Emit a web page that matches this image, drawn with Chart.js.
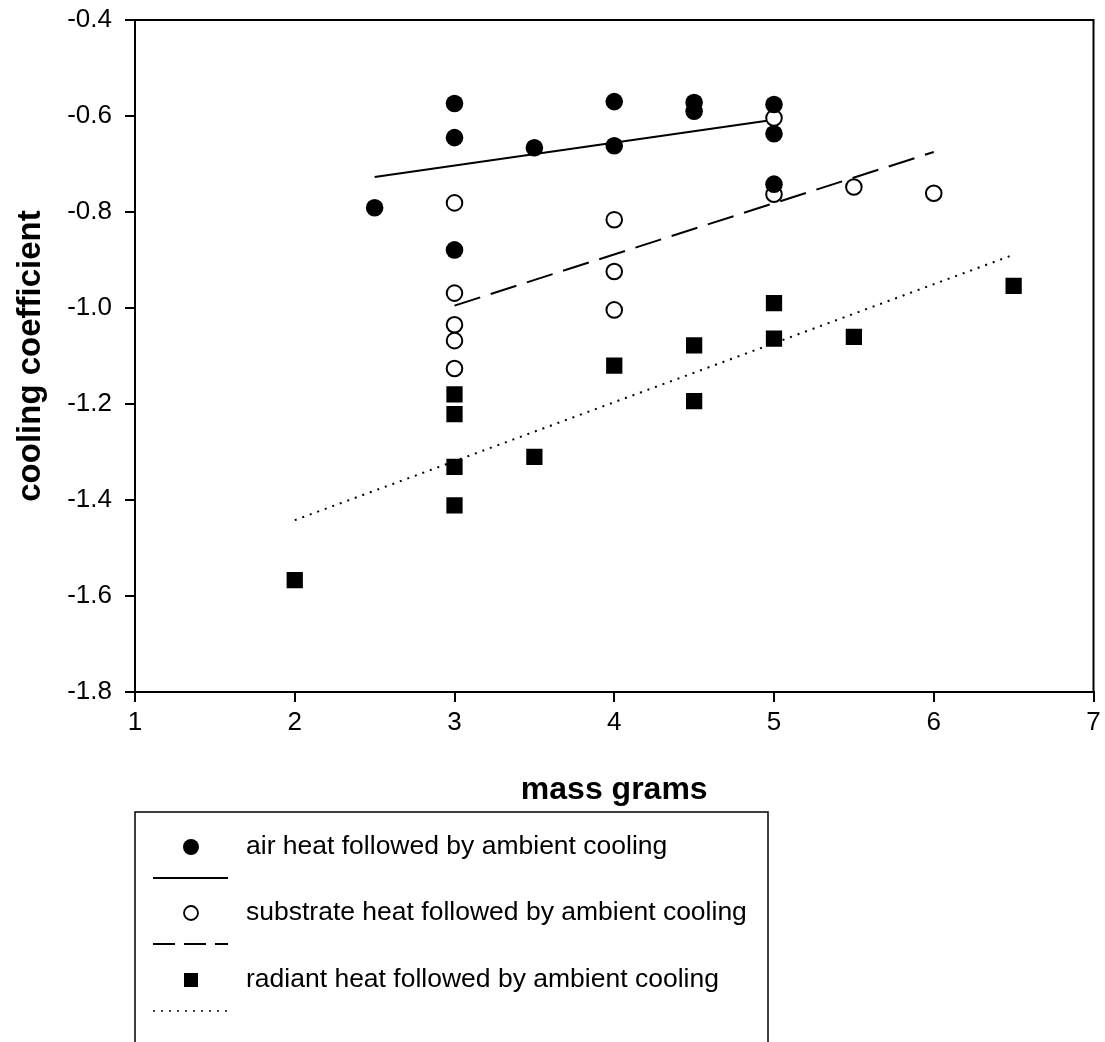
<!DOCTYPE html>
<html>
<head>
<meta charset="utf-8">
<script src="https://cdn.jsdelivr.net/npm/chart.js@4/dist/chart.umd.min.js"></script>
<style>
  html, body { margin: 0; padding: 0; background: #fff; }
  #wrap { width: 1105px; height: 1042px; }
</style>
</head>
<body>
<div id="wrap"><canvas id="c" width="1105" height="1042"></canvas></div>
<script>
// ---- data ----
const seriesLabels = [
  "air heat followed by ambient cooling",
  "substrate heat followed by ambient cooling",
  "radiant heat followed by ambient cooling"
];
const airX = [2.5, 3, 3, 3, 3.5, 4, 4, 4.5, 4.5, 5, 5, 5];
const airY = [-0.791, -0.574, -0.645, -0.879, -0.666, -0.570, -0.662, -0.572, -0.590, -0.576, -0.637, -0.742];
const subX = [3, 3, 3, 3, 3, 4, 4, 4, 5, 5, 5.5, 6];
const subY = [-0.781, -0.969, -1.035, -1.068, -1.126, -0.816, -0.924, -1.004, -0.604, -0.763, -0.748, -0.761];
const radX = [2, 3, 3, 3, 3, 3.5, 4, 4.5, 4.5, 5, 5, 5.5, 6.5];
const radY = [-1.567, -1.180, -1.221, -1.331, -1.411, -1.310, -1.120, -1.078, -1.194, -0.990, -1.064, -1.060, -0.954];
const airFitX = [2.5, 5];
const airFitY = [-0.727, -0.608];
const subFitX = [3, 6];
const subFitY = [-0.995, -0.675];
const radFitX = [2, 6.5];
const radFitY = [-1.442, -0.889];
const xTitle = "mass grams";
const yTitle = "cooling coefficient";

const pts = (xs, ys) => xs.map((x, i) => ({ x: x, y: ys[i] }));
const FONT = "'Liberation Sans', Arial, Helvetica, sans-serif";

const datasets = [
  { label: seriesLabels[0], type: 'scatter', data: pts(airX, airY), pointStyle: 'circle',
    pointRadius: 8.8, backgroundColor: '#000', borderColor: '#000', borderWidth: 0, legendKind: 'marker', legendRow: 0 },
  { label: seriesLabels[1], type: 'scatter', data: pts(subX, subY), pointStyle: 'circle',
    pointRadius: 7.8, backgroundColor: '#fff', borderColor: '#000', borderWidth: 2, legendKind: 'marker', legendRow: 1 },
  { label: seriesLabels[2], type: 'scatter', data: pts(radX, radY), pointStyle: 'rect',
    pointRadius: 11.5, backgroundColor: '#000', borderColor: '#000', borderWidth: 0, legendKind: 'marker', legendRow: 2 },
  { label: seriesLabels[0] + ' fit', type: 'line', data: pts(airFitX, airFitY), showLine: true,
    pointRadius: 0, borderColor: '#000', borderWidth: 2, borderDash: [], fill: false, legendKind: 'line', legendRow: 0 },
  { label: seriesLabels[1] + ' fit', type: 'line', data: pts(subFitX, subFitY), showLine: true,
    pointRadius: 0, borderColor: '#000', borderWidth: 2, borderDash: [27, 11], fill: false, legendKind: 'line', legendRow: 1 },
  { label: seriesLabels[2] + ' fit', type: 'line', data: pts(radFitX, radFitY), showLine: true,
    pointRadius: 0, borderColor: '#000', borderWidth: 2, borderDash: [2, 6], fill: false, legendKind: 'line', legendRow: 2 }
];

const frameAndLegend = {
  id: 'frameAndLegend',
  afterDraw(chart) {
    const ctx = chart.ctx;
    const a = chart.chartArea;
    ctx.save();
    // plot frame
    ctx.strokeStyle = '#000';
    ctx.lineWidth = 2;
    ctx.setLineDash([]);
    ctx.strokeRect(a.left, a.top, a.right - a.left, a.bottom - a.top);

    // legend box
    const boxL = 135, boxT = 812, boxR = 768, boxB = 1060;
    ctx.lineWidth = 1.5;
    ctx.strokeRect(boxL, boxT, boxR - boxL, boxB - boxT);

    const rowMarkerY = [847, 913, 980];
    const rowLineY = [878, 944, 1011];
    const mx = 191, lx0 = 153, lx1 = 228, tx = 246;
    chart.data.datasets.forEach(ds => {
      const r = ds.legendRow;
      if (ds.legendKind === 'marker') {
        const y = rowMarkerY[r];
        ctx.setLineDash([]);
        ctx.fillStyle = ds.backgroundColor;
        ctx.strokeStyle = ds.borderColor;
        if (ds.pointStyle === 'rect') {
          ctx.fillRect(mx - 7, y - 7, 14, 14);
        } else {
          ctx.beginPath();
          const rad = ds.borderWidth ? 7.0 : 8.0;
          ctx.arc(mx, y, rad, 0, Math.PI * 2);
          ctx.fill();
          if (ds.borderWidth) { ctx.lineWidth = 1.8; ctx.stroke(); }
        }
        ctx.fillStyle = '#000';
        ctx.font = '26.5px ' + FONT;
        ctx.textBaseline = 'middle';
        ctx.textAlign = 'left';
        ctx.fillText(ds.label, tx, y);
      } else {
        const y = rowLineY[r];
        ctx.strokeStyle = ds.borderColor;
        ctx.lineWidth = ds.borderDash.length && ds.borderDash[0] < 4 ? 1.5 : 2;
        ctx.setLineDash(ds.borderDash.length && ds.borderDash[0] > 4 ? [22, 9] : ds.borderDash);
        ctx.beginPath();
        ctx.moveTo(lx0, y);
        ctx.lineTo(lx1, y);
        ctx.stroke();
      }
    });
    ctx.restore();
  }
};

new Chart(document.getElementById('c'), {
  type: 'scatter',
  data: { datasets: datasets },
  options: {
    responsive: false,
    animation: false,
    events: [],
    layout: { padding: { left: 0, top: 20, right: 7, bottom: 230 } },
    plugins: { legend: { display: false }, tooltip: { enabled: false } },
    scales: {
      x: {
        type: 'linear', min: 1, max: 7,
        ticks: { stepSize: 1, color: '#000', font: { family: FONT, size: 26 }, padding: 5, maxRotation: 0 },
        grid: { display: true, drawOnChartArea: false, drawTicks: true, tickLength: 10, color: '#000', lineWidth: 2 },
        border: { display: true, color: '#000', width: 2 },
        title: { display: true, text: xTitle, color: '#000', font: { family: FONT, size: 32, weight: 'bold' }, padding: { top: 0, bottom: 3 } },
        afterFit(scale) { scale.height = 120; scale.paddingLeft = 0; scale.paddingRight = 0; }
      },
      y: {
        type: 'linear', min: -1.8, max: -0.4,
        ticks: { stepSize: 0.2, color: '#000', font: { family: FONT, size: 26 }, padding: 13,
                 callback: v => Number(v).toFixed(1) },
        grid: { display: true, drawOnChartArea: false, drawTicks: true, tickLength: 10, color: '#000', lineWidth: 2 },
        border: { display: true, color: '#000', width: 2 },
        title: { display: true, text: yTitle, color: '#000', font: { family: FONT, size: 33, weight: 'bold' }, padding: { top: 11, bottom: 0 } },
        afterFit(scale) { scale.width = 135; scale.paddingTop = 0; scale.paddingBottom = 0; }
      }
    }
  },
  plugins: [frameAndLegend]
});
</script>
</body>
</html>
